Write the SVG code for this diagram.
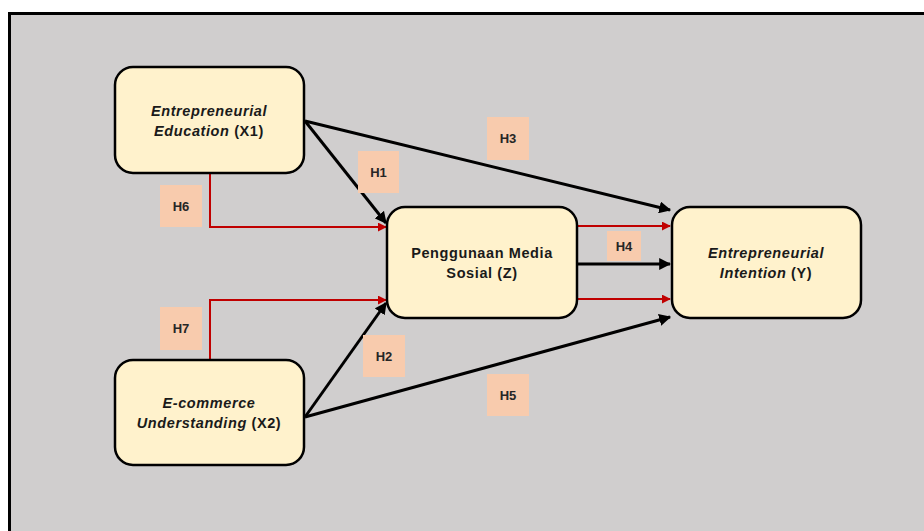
<svg xmlns="http://www.w3.org/2000/svg" width="924" height="531" viewBox="0 0 924 531">
<defs>
<style>
.node{fill:#fff2cc;stroke:#000;stroke-width:2.5}
.lab{fill:#f8cbad}
.t{font-family:"Liberation Sans",Arial,sans-serif;font-weight:bold;font-size:14.5px;letter-spacing:0.6px;fill:#1a1a1a;text-anchor:middle}
.i{font-style:italic}
.h{font-family:"Liberation Sans",Arial,sans-serif;font-weight:bold;font-size:13px;fill:#262626;text-anchor:middle}
.blk{stroke:#000;stroke-width:3;fill:none;marker-end:url(#ab)}
.red{stroke:#c00000;stroke-width:2;fill:none;marker-end:url(#ar)}
</style>
<marker id="ab" viewBox="0 0 10 10" refX="9" refY="5" markerWidth="4" markerHeight="4" orient="auto" markerUnits="strokeWidth"><path d="M0,0L10,5L0,10z" fill="#000"/></marker>
<marker id="ar" viewBox="0 0 10 10" refX="9" refY="5" markerWidth="4.5" markerHeight="4.5" orient="auto" markerUnits="strokeWidth"><path d="M0,0L10,5L0,10z" fill="#c00000"/></marker>
</defs>
<rect x="0" y="0" width="924" height="531" fill="#fff"/>
<rect x="9.5" y="13.5" width="930" height="530" fill="#d0cece" stroke="#000" stroke-width="3"/>
<g id="connectors">
<path class="blk" d="M305,121L386,223"/>
<path class="blk" d="M305,121L670,210"/>
<path class="blk" d="M305,417L386,303"/>
<path class="blk" d="M305,417L670,317"/>
<path class="blk" d="M577,264L670,264"/>
<path class="red" d="M210,173V227H386"/>
<path class="red" d="M210,360V300H386"/>
<path class="red" d="M577,226H670"/>
<path class="red" d="M577,299H670"/>
</g>
<g id="X1"><rect class="node" x="115" y="67" width="189" height="106" rx="18"/>
<text class="t i" x="209" y="116">Entrepreneurial</text>
<text class="t" x="209" y="136"><tspan font-style="italic">Education</tspan> (X1)</text></g>
<g id="X2"><rect class="node" x="115" y="360" width="189" height="105" rx="18"/>
<text class="t i" x="209" y="408">E-commerce</text>
<text class="t" x="209" y="428"><tspan font-style="italic">Understanding</tspan> (X2)</text></g>
<g id="Z"><rect class="node" x="387" y="207" width="190" height="111" rx="18"/>
<text class="t" x="482" y="258">Penggunaan Media</text>
<text class="t" x="482" y="278">Sosial (Z)</text></g>
<g id="Y"><rect class="node" x="672" y="207" width="189" height="111" rx="18"/>
<text class="t i" x="766" y="258">Entrepreneurial</text>
<text class="t" x="766" y="278"><tspan font-style="italic">Intention</tspan> (Y)</text></g>
<g id="H1"><rect class="lab" x="358" y="151" width="41" height="42"/><text class="h" x="378.5" y="177">H1</text></g>
<g id="H2"><rect class="lab" x="363" y="335" width="42" height="42"/><text class="h" x="384" y="361">H2</text></g>
<g id="H3"><rect class="lab" x="487" y="117" width="42" height="43"/><text class="h" x="508" y="143">H3</text></g>
<g id="H4"><rect class="lab" x="607" y="231" width="34" height="30"/><text class="h" x="624" y="251">H4</text></g>
<g id="H5"><rect class="lab" x="487" y="374" width="42" height="42"/><text class="h" x="508" y="400">H5</text></g>
<g id="H6"><rect class="lab" x="160" y="185" width="42" height="42"/><text class="h" x="181" y="211">H6</text></g>
<g id="H7"><rect class="lab" x="160" y="307" width="42" height="43"/><text class="h" x="181" y="333">H7</text></g>
</svg>
